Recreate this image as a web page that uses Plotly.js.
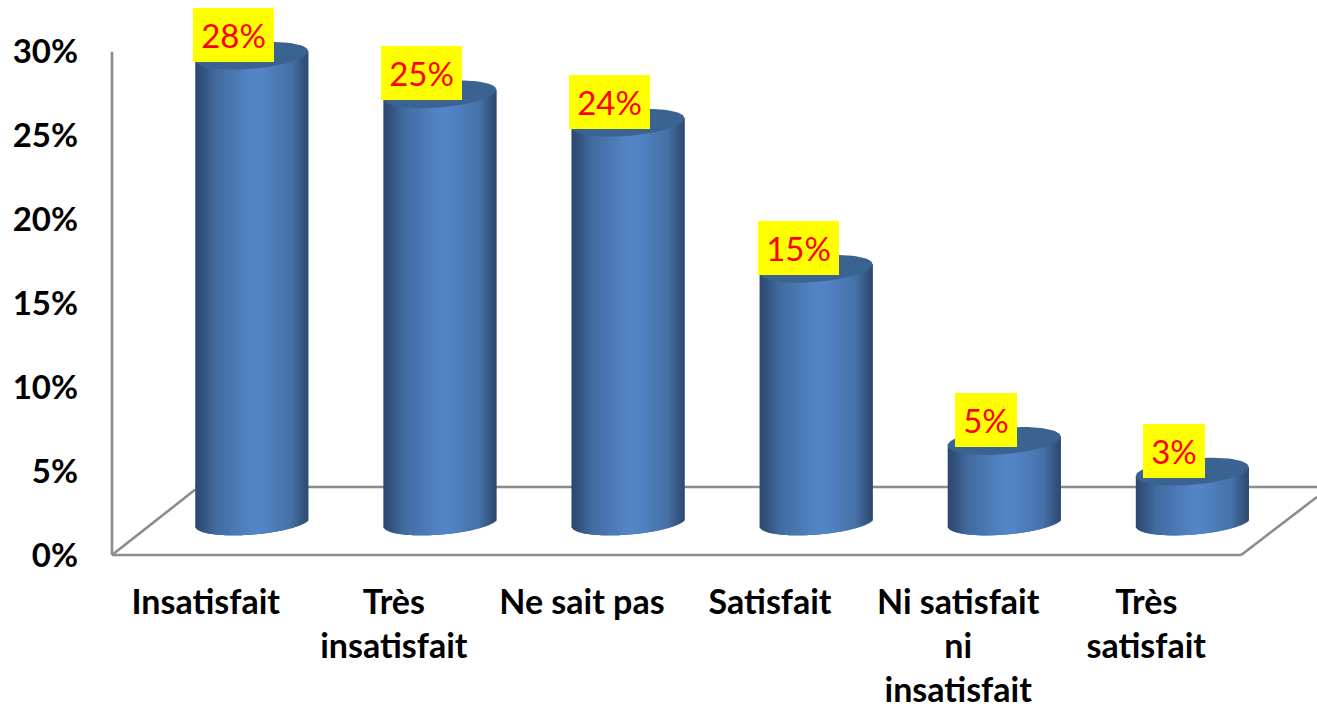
<!DOCTYPE html>
<html><head><meta charset="utf-8">
<script src="https://cdn.plot.ly/plotly-3.0.1.min.js"></script>
<style>html,body{margin:0;padding:0;background:#fff}</style></head>
<body><div id="chart" style="width:1317px;height:710px"></div>
<script>
const categories = ["Insatisfait","Très<br>insatisfait","Ne sait pas","Satisfait","Ni satisfait<br>ni<br>insatisfait","Très<br>satisfait"];
const values = [27.8,25.5,23.8,15.1,4.83,3.0];
const valueLabels = ["28%","25%","24%","15%","5%","3%"];
const yTickVals = [0,5,10,15,20,25,30];
const yTickText = ["0%","5%","10%","15%","20%","25%","30%"];

const BASE = 1.97, HALF = 0.3002, RY = 0.75, TILT = 0.27, STRIPS = 113;
const stops = [[0,[44,72,110]],[0.06,[50,82,124]],[0.18,[66,108,160]],[0.5,[83,133,198]],[0.58,[83,133,198]],[0.85,[70,114,168]],[0.95,[52,86,128]],[1,[46,74,112]]];
function shade(u){
  for(let k=1;k<stops.length;k++){ if(u<=stops[k][0]){
    const a=stops[k-1],b=stops[k],f=(u-a[0])/(b[0]-a[0]);
    const c=a[1].map((v,j)=>Math.round(v+(b[1][j]-v)*f));
    return `rgb(${c.join(',')})`; } }
  return 'rgb(46,74,112)';
}
const sx=[],sb=[],sy=[],sc=[],sw=[];
const step=2*HALF/STRIPS, reach=step*3;
values.forEach((v,i)=>{
  for(let s=0;s<STRIPS;s++){
    const u=(s+0.5)/STRIPS, t=2*u-1, arc=RY*Math.sqrt(1-t*t);
    const bot=BASE+TILT*t-arc, top=BASE+v+TILT*t;
    const left=i-HALF+s*step, w=Math.min(reach,i+HALF-left);
    sx.push(left+w/2); sw.push(w); sb.push(bot); sy.push(top-bot); sc.push(shade(u));
  }
});
const traces=[{type:'bar',x:sx,y:sy,base:sb,width:sw,marker:{color:sc,opacity:1,line:{width:0}},opacity:1,hoverinfo:'skip',showlegend:false}];
values.forEach((v,i)=>{
  const ex=[],ey=[];
  for(let a=0;a<=72;a++){
    const th=a/72*2*Math.PI, t=Math.cos(th);
    ex.push(i+t*HALF); ey.push(BASE+v+TILT*t+RY*Math.sin(th)*1.05);
  }
  traces.push({type:'scatter',mode:'lines',x:ex,y:ey,fill:'toself',fillcolor:'#3b6391',line:{width:0,color:'#3b6391'},hoverinfo:'skip',showlegend:false});
});
const frame={color:'#8c8c8c',width:2.6};
const seg=(x0,y0,x1,y1)=>({type:'line',xref:'x',yref:'y',x0,y0,x1,y1,line:frame,layer:'below'});
const layout={
  width:1317,height:710,autosize:false,paper_bgcolor:'#fff',plot_bgcolor:'#fff',
  margin:{l:100,r:0,t:0,b:150,pad:0},barmode:'overlay',showlegend:false,
  font:{family:'Lato, "Open Sans", sans-serif',color:'#000'},
  xaxis:{range:[-0.8065,5.663],tickmode:'array',tickvals:categories.map((c,i)=>i-0.2446),ticktext:categories,tickangle:0,
    showgrid:false,zeroline:false,showline:false,ticks:'',ticklabelstandoff:19,tickfont:{family:'Lato',size:34,weight:700,color:'#000'}},
  yaxis:{range:[-0.298,33.09],tickmode:'array',tickvals:yTickVals,ticktext:yTickText,
    showgrid:false,zeroline:false,showline:false,ticks:'',ticklabelstandoff:21,tickfont:{family:'Lato',size:33,weight:700,color:'#000'}},
  shapes:[seg(-0.7427,0,-0.7427,30),seg(-0.7427,0,5.26,0),seg(-0.7427,0,-0.3,3.9),seg(-0.3,4.05,5.663,4.05),seg(5.26,0,5.663,3.46)],
  annotations:values.map((v,i)=>({x:i,y:BASE+v,xref:'x',yref:'y',xanchor:'center',yanchor:'middle',xshift:-18,yshift:21,
    text:valueLabels[i],showarrow:false,bgcolor:'#ffff00',borderpad:0,borderwidth:0,width:valueLabels[i].length>2?81:62,height:54,align:'center',valign:'middle',
    font:{family:'Lato',size:33,color:'#ff0000'}}))
};
Plotly.newPlot('chart',traces,layout,{displayModeBar:false,responsive:false,staticPlot:true});
</script></body></html>
